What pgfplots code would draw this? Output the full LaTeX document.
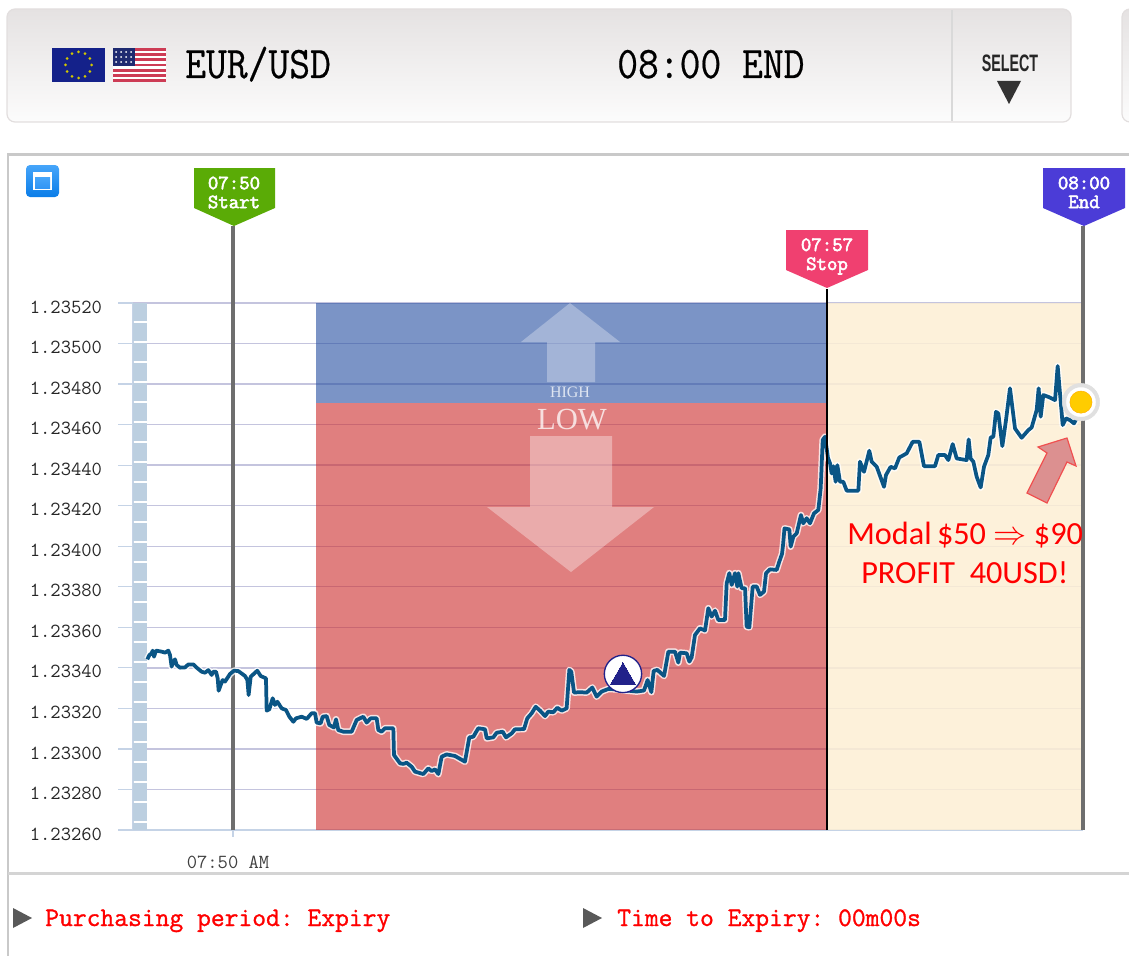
\documentclass[border=0pt]{standalone}
\usepackage{fontspec}
\usepackage{pgfplots}
\usepackage{pgfplotstable}
\pgfplotsset{compat=1.18}
\newfontfamily\carlito{Carlito}
\newfontfamily\lsans{Liberation Sans}
\newfontfamily\lserif{Liberation Serif}
\definecolor{gridlav}{HTML}{C4C4DE}
\definecolor{axblue}{HTML}{C5D3E6}
\definecolor{bandblue}{HTML}{BCCFE0}
\definecolor{fillred}{RGB}{203,42,42}
\definecolor{fillblue}{RGB}{35,77,160}
\definecolor{fillcream}{RGB}{253,239,212}
\definecolor{pricec}{HTML}{0A5585}
\definecolor{barline}{HTML}{E2DEDE}
\definecolor{bartop}{HTML}{E5E2E2}
\definecolor{barbot}{HTML}{FCFCFC}
\definecolor{panelc}{HTML}{C9C9C9}
\definecolor{vgray}{HTML}{6E6E6E}
\definecolor{btntop}{RGB}{70,165,250}
\definecolor{btnbot}{RGB}{10,125,232}
\definecolor{btnin}{RGB}{50,150,245}
\definecolor{navy}{RGB}{34,34,138}
\pgfplotstableread{
min price
-1.008 1.233442
-0.984 1.233463
-0.957 1.233472
-0.945 1.233485
-0.929 1.233455
-0.906 1.233485
-0.839 1.233480
-0.800 1.233475
-0.761 1.233485
-0.741 1.233463
-0.722 1.233406
-0.702 1.233430
-0.682 1.233442
-0.663 1.233414
-0.624 1.233401
-0.565 1.233402
-0.525 1.233417
-0.467 1.233417
-0.427 1.233401
-0.369 1.233381
-0.329 1.233376
-0.290 1.233389
-0.251 1.233365
-0.231 1.233381
-0.200 1.233381
-0.180 1.233348
-0.169 1.233287
-0.145 1.233315
-0.122 1.233340
-0.094 1.233332
-0.035 1.233370
0.012 1.233386
0.063 1.233384
0.141 1.233360
0.169 1.233340
0.184 1.233266
0.208 1.233356
0.259 1.233376
0.286 1.233386
0.325 1.233360
0.388 1.233348
0.396 1.233189
0.427 1.233195
0.467 1.233250
0.494 1.233217
0.522 1.233233
0.573 1.233200
0.624 1.233192
0.663 1.233159
0.710 1.233134
0.741 1.233151
0.808 1.233159
0.867 1.233148
0.925 1.233176
0.965 1.233176
0.984 1.233130
1.031 1.233126
1.055 1.233159
1.102 1.233162
1.133 1.233118
1.188 1.233106
1.212 1.233146
1.239 1.233093
1.298 1.233085
1.396 1.233085
1.455 1.233143
1.533 1.233159
1.573 1.233130
1.620 1.233151
1.690 1.233151
1.710 1.233093
1.749 1.233085
1.788 1.233102
1.886 1.233102
1.894 1.232970
1.965 1.232929
2.004 1.232926
2.043 1.232932
2.102 1.232912
2.141 1.232888
2.239 1.232876
2.298 1.232904
2.337 1.232891
2.376 1.232899
2.416 1.232876
2.455 1.232962
2.514 1.232973
2.612 1.232965
2.729 1.232937
2.780 1.233057
2.827 1.233060
2.886 1.233102
2.965 1.233097
2.985 1.233052
3.062 1.233057
3.102 1.233080
3.173 1.233085
3.212 1.233057
3.279 1.233077
3.318 1.233097
3.424 1.233098
3.462 1.233151
3.514 1.233176
3.561 1.233208
3.612 1.233189
3.671 1.233162
3.709 1.233184
3.768 1.233181
3.815 1.233203
3.867 1.233189
3.925 1.233200
3.957 1.233390
3.980 1.233381
4.012 1.233278
4.082 1.233280
4.161 1.233278
4.227 1.233303
4.278 1.233258
4.337 1.233283
4.416 1.233296
4.514 1.233294
4.631 1.233288
4.749 1.233283
4.835 1.233288
4.878 1.233340
4.902 1.233307
4.922 1.233280
4.949 1.233385
4.992 1.233390
5.071 1.233360
5.122 1.233480
5.200 1.233480
5.239 1.233426
5.259 1.233475
5.337 1.233472
5.369 1.233431
5.396 1.233452
5.435 1.233562
5.494 1.233595
5.553 1.233584
5.592 1.233694
5.631 1.233653
5.671 1.233682
5.710 1.233636
5.788 1.233636
5.808 1.233817
5.839 1.233867
5.867 1.233809
5.906 1.233867
5.933 1.233801
5.945 1.233867
5.984 1.233793
6.024 1.233793
6.043 1.233603
6.075 1.233600
6.114 1.233801
6.161 1.233801
6.200 1.233760
6.247 1.233776
6.271 1.233867
6.318 1.233886
6.396 1.233883
6.427 1.233924
6.459 1.233962
6.471 1.234006
6.488 1.234088
6.545 1.234083
6.561 1.233998
6.592 1.234047
6.632 1.234064
6.682 1.234154
6.709 1.234113
6.749 1.234138
6.788 1.234113
6.835 1.234162
6.886 1.234179
6.914 1.234286
6.938 1.234524
6.965 1.234540
7.000 1.234435
7.024 1.234409
7.043 1.234359
7.063 1.234395
7.090 1.234318
7.110 1.234400
7.141 1.234318
7.180 1.234318
7.220 1.234274
7.357 1.234274
7.376 1.234417
7.424 1.234367
7.486 1.234471
7.514 1.234417
7.573 1.234392
7.659 1.234293
7.682 1.234351
7.737 1.234392
7.788 1.234384
7.839 1.234438
7.925 1.234458
7.996 1.234515
8.075 1.234515
8.129 1.234395
8.259 1.234395
8.298 1.234450
8.376 1.234450
8.416 1.234425
8.467 1.234504
8.514 1.234433
8.631 1.234425
8.655 1.234527
8.678 1.234433
8.710 1.234417
8.749 1.234343
8.796 1.234290
8.835 1.234392
8.886 1.234450
8.914 1.234537
8.945 1.234540
8.976 1.234663
9.004 1.234655
9.051 1.234494
9.094 1.234622
9.141 1.234779
9.200 1.234581
9.278 1.234535
9.357 1.234573
9.396 1.234586
9.455 1.234672
9.478 1.234779
9.502 1.234639
9.533 1.234746
9.592 1.234737
9.671 1.234721
9.702 1.234889
9.761 1.234598
9.800 1.234631
9.847 1.234622
9.894 1.234606
9.945 1.234647
}\pricedata
\newcommand{\ttsz}[1]{\fontsize{#1}{#1}\selectfont\ttfamily}
\newfontfamily\lmmono{Latin Modern Mono}
\newcommand{\fb}[1]{\addfontfeature{FakeBold=#1}}
\begin{document}
\frenchspacing
\begin{tikzpicture}
\begin{scope}[x=0.75pt,y=-0.75pt]
\path[use as bounding box] (0,0) rectangle (1129,956);
% header bar
\shade[top color=bartop,bottom color=barbot,draw=barline,line width=0.9pt,rounded corners=6pt] (7,9) rectangle (1071,122);
\fill[gray!30] (950.5,10) rectangle (952.5,121);
\begin{scope}
\clip (1100,0) rectangle (1129,140);
\shade[top color=bartop,bottom color=barbot,draw=barline,line width=0.9pt,rounded corners=6pt] (1122,9) rectangle (1200,122);
\end{scope}
% EU flag
\fill[fill={rgb,255:red,20;green,33;blue,138}] (52,48) rectangle (105,82);
\foreach \a in {0,30,...,330}{\fill[yellow!60!olive] ({78.5+13*cos(\a)},{65+13*sin(\a)}) circle (1.5);}
% US flag
\fill[white] (113,48) rectangle (166,82);
\foreach \i in {0,2,...,12}{\fill[fill={rgb,255:red,205;green,60;blue,85}] (113,{48+\i*34/13}) rectangle (166,{48+(\i+1)*34/13});}
\fill[fill={rgb,255:red,30;green,42;blue,112}] (113,48) rectangle (135,66);
\foreach \i in {116,121,...,131}{\foreach \j in {52,57,62}{\fill[white] (\i,\j) circle (1);}}
\node[anchor=base west,inner sep=0,text=black] at (185,78) {\scalebox{1.01}[1.13]{\lmmono\fontsize{30pt}{30pt}\selectfont\fb{0.5}EUR/USD}};
\node[anchor=base west,inner sep=0,text=black] at (617,78) {\scalebox{1.01}[1.13]{\lmmono\fontsize{30pt}{30pt}\selectfont\fb{0.5}08:00 END}};
\node[inner sep=0,text=black!85] at (1010,63) {\scalebox{0.63}[1.05]{\fontsize{17pt}{17pt}\selectfont\lsans\bfseries SELECT}};
\fill[black!80] (997,81) -- (1021,81) -- (1009,104) -- cycle;
% panel
\draw[panelc,line width=2.2pt] (8,956) -- (8,154.5) -- (1129,154.5);
\draw[panelc!80!white,line width=1.8pt] (8,873.5) -- (1129,873.5);
% button
\shade[top color=btntop,bottom color=btnbot,rounded corners=3pt] (26,165) rectangle (59,197);
\fill[white] (33,172) rectangle (52,190);
\shade[top color=btntop,bottom color=btnin] (35,177) rectangle (50,188);
% footer
\fill[black!65] (13,908) -- (32,918) -- (13,928) -- cycle;
\node[anchor=base west,inner sep=0,text=red] at (45,926) {\lmmono\fontsize{20.1pt}{20.1pt}\selectfont\fb{1.1}Purchasing period: Expiry};
\fill[black!65] (583,908) -- (602,918) -- (583,928) -- cycle;
\node[anchor=base west,inner sep=0,text=red] at (617,926) {\lmmono\fontsize{20.1pt}{20.1pt}\selectfont\fb{1.1}Time to Expiry: 00m00s};
\end{scope}
\begin{axis}[
  at={(99.75pt,-622.5pt)},anchor=south west,
  width=712.5pt,height=395.25pt,scale only axis,
  xmin=-1.17647,xmax=10,ymin=1.2326,ymax=1.2352,
  clip=false,
  axis lines=left,
  axis line style={-,color=axblue,line width=0.9pt},
  ytick={1.2326,1.2328,1.233,1.2332,1.2334,1.2336,1.2338,1.234,1.2342,1.2344,1.2346,1.2348,1.235,1.2352},
  xtick={0},xticklabels={07:50 AM},
  scaled y ticks=false,
  ymajorgrids=true,
  grid style={color=gridlav,line width=1pt},
  tick align=outside,
  major tick length=11.25pt,
  ytick style={color=axblue,line width=0.9pt},
  xtick style={draw=none},
  yticklabel style={font=\ttsz{15pt},text=black!85,
    /pgf/number format/fixed,/pgf/number format/fixed zerofill,/pgf/number format/precision=5,
    /pgf/number format/assume math mode=true,yshift=-3pt,xshift=-8.5pt},
  xticklabel style={font=\ttsz{15pt},text=black!75,xshift=-3.75pt,yshift=-4.5pt},
]
% regions
\addplot[draw=none,fill=fillred,fill opacity=0.6] coordinates {(0.976,1.2326)(6.99,1.2326)(6.99,1.234706)(0.976,1.234706)} --cycle;
\addplot[draw=none,fill=fillblue,fill opacity=0.6] coordinates {(0.976,1.234706)(6.99,1.234706)(6.99,1.2352)(0.976,1.2352)} --cycle;
\addplot[draw=none,fill=fillcream,fill opacity=0.85] coordinates {(6.99,1.2326)(10,1.2326)(10,1.2352)(6.99,1.2352)} --cycle;
% left band
\addplot[bandblue,line width=10.5pt,dash pattern=on 13.3pt off 1.7pt] coordinates {(-1.094,1.2352)(-1.094,1.2326)};
% verticals
\addplot[vgray,line width=2.4pt] coordinates {(0,1.2326)(0,1.23558)};
\addplot[axblue,line width=0.9pt] coordinates {(0,1.2326)(0,1.232565)};
\addplot[vgray,line width=2.4pt] coordinates {(10,1.2326)(10,1.23558)};
% price
\addplot[white,opacity=0.8,line width=5pt,line join=round] table[x=min,y=price] {\pricedata};
\addplot[pricec,line width=2.8pt,line join=round] table[x=min,y=price] {\pricedata};
\addplot[black,line width=1.1pt] coordinates {(6.99,1.2326)(6.99,1.23527)};
% markers
\addplot[only marks,mark=*,mark size=14pt,mark options={fill=white,draw=navy,line width=1pt}] coordinates {(4.588,1.23337)};
\addplot[only marks,mark=triangle*,mark size=10.7pt,mark options={fill=navy,draw=navy,line width=0pt}] coordinates {(4.588,1.233355)};
\addplot[only marks,mark=*,mark size=14pt,mark options={fill=black!12,draw=black!12,line width=0.4pt}] coordinates {(9.976,1.234711)};
\addplot[only marks,mark=*,mark size=11pt,mark options={fill=white,draw=white,line width=0.2pt}] coordinates {(9.976,1.234711)};
\addplot[only marks,mark=*,mark size=8.3pt,mark options={fill=orange!40!yellow,draw=orange!60!yellow,line width=0.4pt}] coordinates {(9.976,1.234711)};
\end{axis}
\begin{scope}[x=0.75pt,y=-0.75pt]
% pins
\fill[fill={rgb,255:red,90;green,171;blue,6}] (194,168) -- (275,168) -- (275,208) -- (234,226) -- (194,208) -- cycle;
\node[text=white,inner sep=0] at (234,183) {\lmmono\fontsize{15.2pt}{15.2pt}\selectfont\fb{2.8}07:50};
\node[text=white,inner sep=0] at (234,202) {\lmmono\fontsize{15.2pt}{15.2pt}\selectfont\fb{2.8}Start};
\fill[fill={rgb,255:red,240;green,64;blue,112}] (786,230) -- (868,230) -- (868,270) -- (827,288) -- (786,270) -- cycle;
\node[text=white,inner sep=0,anchor=base] at (827,251) {\lmmono\fontsize{15.2pt}{15.2pt}\selectfont\fb{2.8}07:57};
\node[text=white,inner sep=0,anchor=base] at (827,270) {\lmmono\fontsize{15.2pt}{15.2pt}\selectfont\fb{2.8}Stop};
\fill[fill={rgb,255:red,75;green,60;blue,215}] (1043,168) -- (1125,168) -- (1125,208) -- (1084,226) -- (1043,208) -- cycle;
\node[text=white,inner sep=0] at (1084,183) {\lmmono\fontsize{15.2pt}{15.2pt}\selectfont\fb{2.8}08:00};
\node[text=white,inner sep=0] at (1084,202) {\lmmono\fontsize{15.2pt}{15.2pt}\selectfont\fb{2.8}End};
% high/low arrows
\fill[white,opacity=0.3] (570,303) -- (620,342) -- (595,342) -- (595,382) -- (547,382) -- (547,342) -- (521,342) -- cycle;
\fill[white,opacity=0.35] (530,436) -- (612,436) -- (612,507) -- (654,507) -- (571,572) -- (487,507) -- (530,507) -- cycle;
\node[text=white,opacity=0.75,inner sep=0] at (570,392) {\fontsize{12pt}{12pt}\selectfont\lserif HIGH};
\node[text=white,opacity=0.75,inner sep=0] at (572,420) {\fontsize{23pt}{23pt}\selectfont\lserif LOW};
% annotation
\draw[fill={rgb,255:red,220;green,144;blue,144},draw={rgb,255:red,240;green,80;blue,80},line width=0.9pt] (1067,438) -- (1076,466) -- (1067,462) -- (1047,503) -- (1027,493) -- (1047,453) -- (1038,447) -- cycle;
\node[text=red,inner sep=0,anchor=base west] at (847,544) {\fontsize{24.2pt}{24.2pt}\selectfont\carlito Modal\,\$50 $\Rightarrow$ \$90};
\node[text=red,inner sep=0,anchor=base west] at (861,583) {\fontsize{24.2pt}{24.2pt}\selectfont\carlito PROFIT\ \ 40USD!};
\end{scope}
\end{tikzpicture}
\end{document}
